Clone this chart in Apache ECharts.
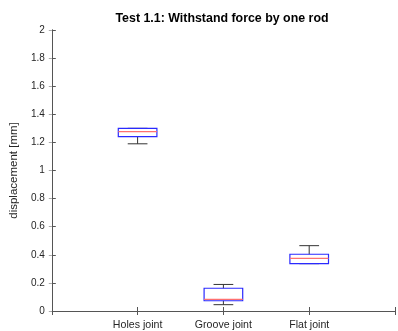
<!DOCTYPE html>
<html><head><meta charset="utf-8">
<script src="https://cdn.jsdelivr.net/npm/echarts@6/dist/echarts.min.js"></script>
<style>html,body{margin:0;padding:0;background:#fff}#c{width:398px;height:331px}</style>
</head><body><div id="c"></div>
<script>
const categories = ['Holes joint', 'Groove joint', 'Flat joint'];
const lowerWhisker = [1.190, 0.045, 0.337];
const q1 = [1.241, 0.073, 0.337];
const medians = [1.276, 0.083, 0.375];
const q3 = [1.300, 0.162, 0.404];
const upperWhisker = [1.300, 0.189, 0.465];
const yTicks = [0, 0.2, 0.4, 0.6, 0.8, 1, 1.2, 1.4, 1.6, 1.8, 2];

const data = categories.map((c, i) => [i + 1, lowerWhisker[i], q1[i], medians[i], q3[i], upperWhisker[i]]);

const axisColor = '#555';
const labelColor = '#262626';
const font = 'Liberation Sans, Arial, sans-serif';

const chart = echarts.init(document.getElementById('c'), null, {renderer: 'canvas'});
chart.setOption({
  animation: false,
  backgroundColor: '#fff',
  title: {
    text: 'Test 1.1: Withstand force by one rod',
    left: 217, top: 8, textAlign: 'center',
    textStyle: {fontFamily: font, fontSize: 12.4, fontWeight: 'bold', color: '#000'}
  },
  grid: {left: 44, top: 30, width: 356, height: 281},
  xAxis: [{
    type: 'value', min: 0, max: 4, interval: 1,
    axisLine: {show: true, lineStyle: {color: axisColor, width: 1}},
    axisTick: {show: true, inside: true, length: 4, lineStyle: {color: axisColor}},
    splitLine: {show: false},
    axisLabel: {
      fontFamily: font, fontSize: 10.6, color: labelColor, margin: 9,
      formatter: v => (v >= 1 && v <= categories.length) ? categories[v - 1] : ''
    }
  }, {
    type: 'value', min: 0, max: 4, interval: 1, position: 'top',
    axisLine: {show: true, lineStyle: {color: axisColor, width: 1}},
    axisTick: {show: true, inside: true, length: 4, lineStyle: {color: axisColor}},
    axisLabel: {show: false}, splitLine: {show: false}
  }],
  yAxis: [{
    type: 'value', min: 0, max: 2, interval: 0.2,
    name: 'displacement [mm]', nameLocation: 'middle', nameGap: 24,
    nameTextStyle: {fontFamily: font, fontSize: 11.5, color: labelColor},
    axisLine: {show: true, lineStyle: {color: axisColor, width: 1}},
    axisTick: {show: true, inside: true, length: 4, lineStyle: {color: axisColor}},
    splitLine: {show: false},
    axisLabel: {fontFamily: font, fontSize: 10, color: labelColor, margin: 7,
      formatter: v => { const t = yTicks.find(x => Math.abs(x - v) < 1e-9); return t === undefined ? '' : String(t); }}
  }, {
    type: 'value', min: 0, max: 2, interval: 0.2, position: 'right',
    axisLine: {show: true, lineStyle: {color: axisColor, width: 1}},
    axisTick: {show: true, inside: true, length: 3, lineStyle: {color: '#aaa'}},
    axisLabel: {show: false}, splitLine: {show: false}
  }],
  series: [{
    type: 'custom',
    xAxisIndex: 0, yAxisIndex: 0,
    encode: {x: 0, y: [1, 2, 3, 4, 5]},
    data: data,
    renderItem: function (params, api) {
      const x = api.value(0);
      const lw = api.value(1), a = api.value(2), m = api.value(3), b = api.value(4), uw = api.value(5);
      const halfBox = 0.225, halfCap = 0.115;
      const pL = api.coord([x - halfBox, a]);
      const pR = api.coord([x + halfBox, b]);
      const pc = (xx, yy) => api.coord([xx, yy]);
      const black = {stroke: '#333', lineWidth: 1};
      const children = [];
      children.push({type: 'line', shape: {x1: pc(x, b)[0], y1: pc(x, b)[1], x2: pc(x, uw)[0], y2: pc(x, uw)[1]}, style: black});
      children.push({type: 'line', shape: {x1: pc(x, lw)[0], y1: pc(x, lw)[1], x2: pc(x, a)[0], y2: pc(x, a)[1]}, style: black});
      children.push({type: 'line', shape: {x1: pc(x - halfCap, uw)[0], y1: pc(x, uw)[1], x2: pc(x + halfCap, uw)[0], y2: pc(x, uw)[1]}, style: black});
      children.push({type: 'line', shape: {x1: pc(x - halfCap, lw)[0], y1: pc(x, lw)[1], x2: pc(x + halfCap, lw)[0], y2: pc(x, lw)[1]}, style: black});
      children.push({type: 'rect', shape: {x: pL[0], y: pR[1], width: pR[0] - pL[0], height: pL[1] - pR[1]},
        style: {fill: 'none', stroke: '#2a2aff', lineWidth: 1.2}});
      const pm1 = pc(x - halfBox, m), pm2 = pc(x + halfBox, m);
      children.push({type: 'line', shape: {x1: pm1[0], y1: pm1[1], x2: pm2[0], y2: pm2[1]}, style: {stroke: '#ff7070', lineWidth: 1.2}});
      return {type: 'group', children: children};
    }
  }]
});
</script>
</body></html>
